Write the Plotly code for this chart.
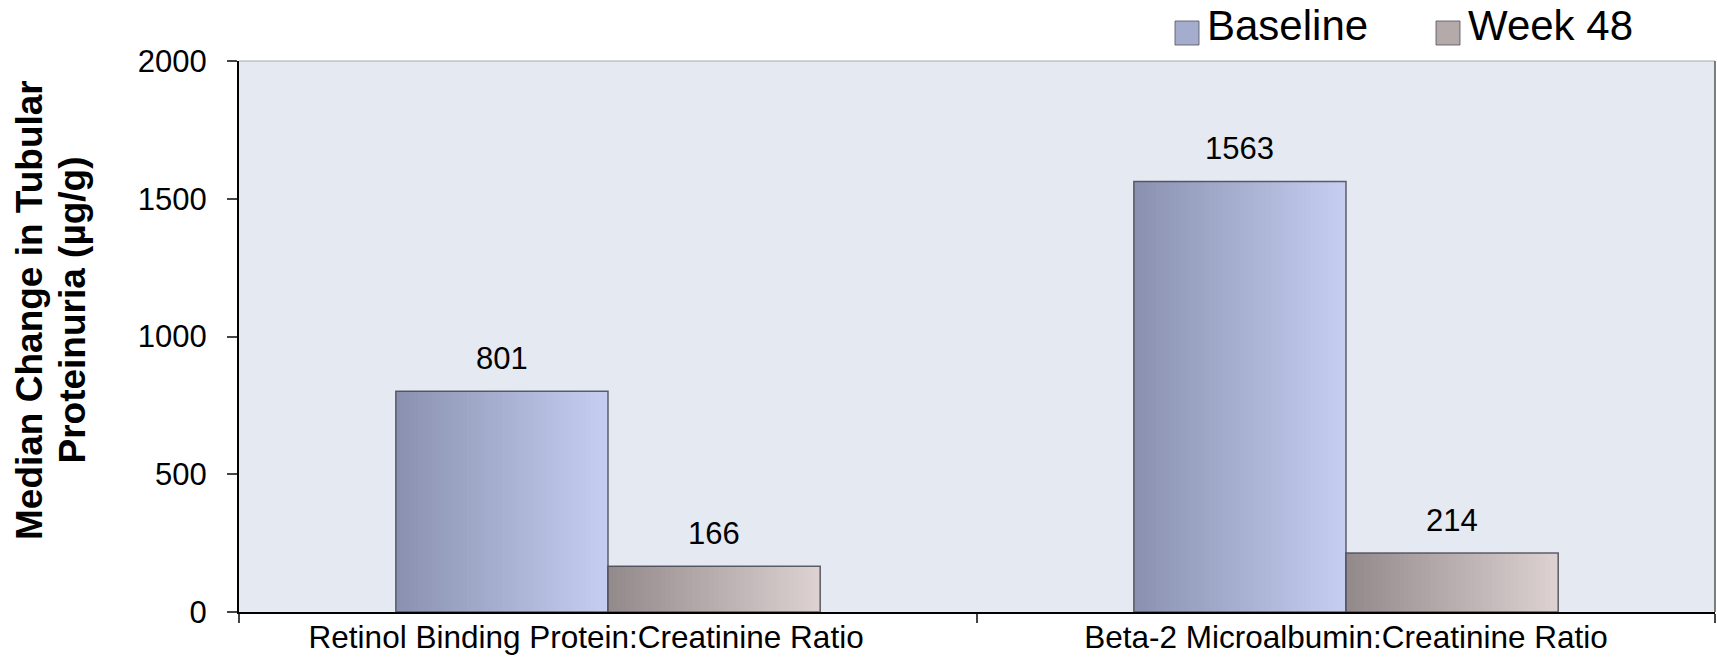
import plotly.graph_objects as go

# Chart data
categories = ["Retinol Binding Protein:Creatinine Ratio",
              "Beta-2 Microalbumin:Creatinine Ratio"]
baseline = [801, 1563]
week48 = [166, 214]
series_names = ["Baseline", "Week 48"]
y_ticks = [0, 500, 1000, 1500, 2000]

FONT = "Liberation Sans, Arial, sans-serif"
BAR_W = 0.2875          # width of one bar in category units
N_SLICES = 48           # slices used to shade each bar left-to-right

# left/right shade colours of each series
shades = {
    "Baseline": ((138, 145, 176), (198, 207, 242)),
    "Week 48": ((146, 137, 138), (222, 210, 210)),
}


def lerp(c0, c1, t):
    return "rgb(%d,%d,%d)" % tuple(round(a + (b - a) * t) for a, b in zip(c0, c1))


fig = go.Figure()

for name, vals, start in [("Baseline", baseline, -BAR_W), ("Week 48", week48, 0.0)]:
    c0, c1 = shades[name]
    w = BAR_W / N_SLICES
    # each slice runs to the bar's right edge; later slices sit on top,
    # giving a seamless left-to-right shade
    for k in range(N_SLICES):
        fig.add_trace(go.Bar(
            x=categories, y=vals, width=BAR_W - k * w, offset=start + k * w,
            marker=dict(color=lerp(c0, c1, (k + 0.5) / N_SLICES), line=dict(width=0)),
            showlegend=False, hoverinfo="skip",
        ))
    # outline of the full bar
    fig.add_trace(go.Bar(
        x=categories, y=vals, width=BAR_W, offset=start, name=name,
        marker=dict(color="rgba(0,0,0,0)",
                    line=dict(color="rgba(70,72,85,0.85)", width=1.5)),
        showlegend=False,
    ))

# value labels above bars
annotations = []
for vals, centre in [(baseline, -BAR_W / 2), (week48, BAR_W / 2)]:
    for i, v in enumerate(vals):
        annotations.append(dict(
            x=i + centre, y=v, xref="x", yref="y", text=str(v),
            showarrow=False, yanchor="bottom", yshift=13,
            font=dict(family=FONT, size=31, color="#000"),
        ))

# margins of the plotting area (pixels)
W, H = 1717, 658
ML, MR, MT, MB = 239, 2, 61, 46
PW, PH = W - ML - MR, H - MT - MB


def px(xp):
    return (xp - ML) / PW


def py(yp):
    return (H - MB - yp) / PH


# y-axis title, two rotated lines
for line, xc in [("Median Change in Tubular", 29), ("Proteinuria (µg/g)", 71.5)]:
    annotations.append(dict(
        x=px(xc), y=py(310), xref="paper", yref="paper",
        text="<b>%s</b>" % line,
        textangle=-90, showarrow=False, xanchor="center", yanchor="middle",
        font=dict(family=FONT, size=37, color="#000"),
    ))

# legend (large square swatches)
shapes = []
legend_items = [("Baseline", 1175), ("Week 48", 1436)]
for name, x0 in legend_items:
    c0, c1 = shades[name]
    shapes.append(dict(
        type="rect", xref="paper", yref="paper",
        x0=px(x0), x1=px(x0 + 24), y0=py(45), y1=py(21),
        fillcolor=lerp(c0, c1, 0.45),
        line=dict(color="rgba(80,80,90,0.8)", width=1),
    ))
    annotations.append(dict(
        x=px(x0 + 30), y=py(25), xref="paper", yref="paper",
        text=name, showarrow=False, xanchor="left", yanchor="middle",
        font=dict(family=FONT, size=42, color="#000"),
    ))

# plot frame: light top edge, dark right edge
shapes.append(dict(type="line", xref="paper", yref="paper", x0=0, x1=1, y0=1, y1=1,
                   line=dict(color="#a8a8a8", width=1)))
shapes.append(dict(type="line", xref="paper", yref="paper", x0=1, x1=1, y0=0, y1=1,
                   line=dict(color="#555555", width=1.5)))

# category tick labels; the first one sits slightly left of its group
NBSP = "\u00a0"
tick_labels = [categories[0] + NBSP * 5, categories[1]]

fig.update_layout(
    width=W, height=H,
    margin=dict(l=ML, r=MR, t=MT, b=MB, pad=0),
    paper_bgcolor="white",
    plot_bgcolor="#e5e9f2",
    barmode="overlay",
    showlegend=False,
    font=dict(family=FONT, size=31, color="#000"),
    annotations=annotations,
    shapes=shapes,
    xaxis=dict(
        type="category", categoryorder="array", categoryarray=categories,
        range=[-0.5, 1.5], automargin=False,
        tickmode="array", tickvals=categories, ticktext=tick_labels,
        showline=True, linecolor="#000", linewidth=2,
        ticks="outside", tickson="boundaries", ticklen=9, tickwidth=2,
        tickcolor="#444", showgrid=False,
        ticklabelstandoff=-4,
        tickfont=dict(family=FONT, size=31.5, color="#000"),
    ),
    yaxis=dict(
        range=[0, 2000], tickvals=y_ticks, ticktext=[str(t) for t in y_ticks],
        automargin=False,
        showline=True, linecolor="#000", linewidth=2,
        ticks="outside", ticklen=10, tickwidth=1.5, tickcolor="#444",
        showgrid=False, zeroline=False,
        ticklabelstandoff=14,
        tickfont=dict(family=FONT, size=31, color="#000"),
    ),
)

fig.write_html("out.html")
